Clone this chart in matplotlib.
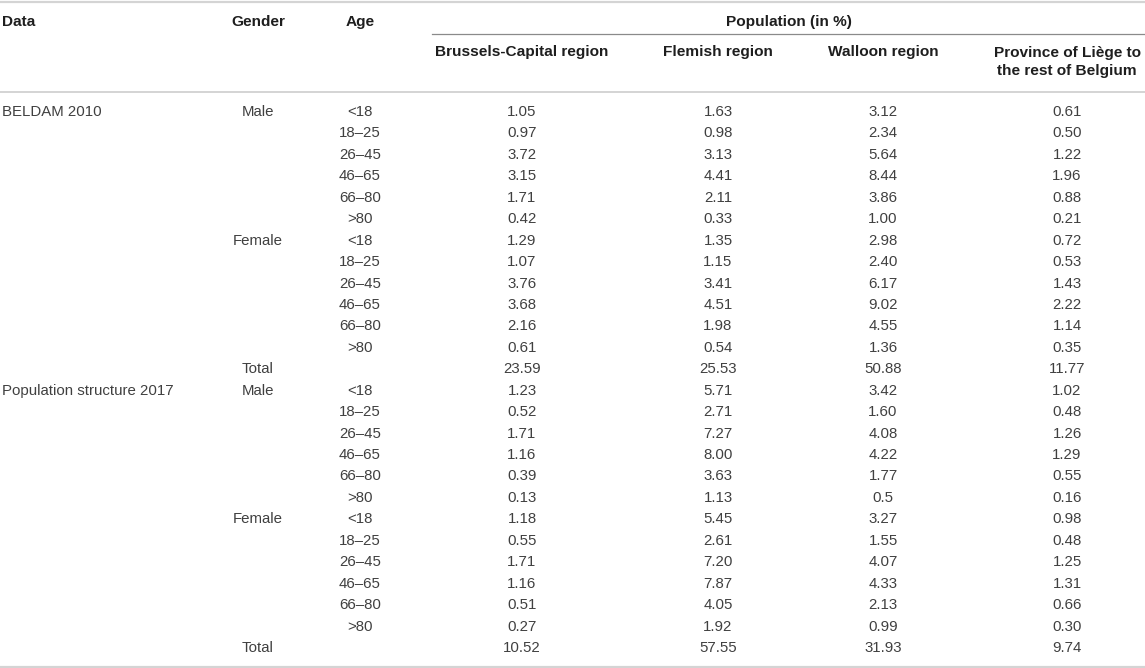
import matplotlib.pyplot as plt

plt.rcParams['font.family'] = ['Liberation Sans', 'DejaVu Sans']

# 表格数据
datasets = ["BELDAM 2010", "Population structure 2017"]
genders = ["Male", "Female"]
ages = ["<18", "18\u201325", "26\u201345", "46\u201365", "66\u201380", ">80"]
regions = ["Brussels-Capital region", "Flemish region", "Walloon region",
           "Province of Li\u00e8ge to\nthe rest of Belgium"]

beldam_brussels = ["1.05", "0.97", "3.72", "3.15", "1.71", "0.42",
                   "1.29", "1.07", "3.76", "3.68", "2.16", "0.61", "23.59"]
beldam_flemish = ["1.63", "0.98", "3.13", "4.41", "2.11", "0.33",
                  "1.35", "1.15", "3.41", "4.51", "1.98", "0.54", "25.53"]
beldam_walloon = ["3.12", "2.34", "5.64", "8.44", "3.86", "1.00",
                  "2.98", "2.40", "6.17", "9.02", "4.55", "1.36", "50.88"]
beldam_liege = ["0.61", "0.50", "1.22", "1.96", "0.88", "0.21",
                "0.72", "0.53", "1.43", "2.22", "1.14", "0.35", "11.77"]

pop_brussels = ["1.23", "0.52", "1.71", "1.16", "0.39", "0.13",
                "1.18", "0.55", "1.71", "1.16", "0.51", "0.27", "10.52"]
pop_flemish = ["5.71", "2.71", "7.27", "8.00", "3.63", "1.13",
               "5.45", "2.61", "7.20", "7.87", "4.05", "1.92", "57.55"]
pop_walloon = ["3.42", "1.60", "4.08", "4.22", "1.77", "0.5",
               "3.27", "1.55", "4.07", "4.33", "2.13", "0.99", "31.93"]
pop_liege = ["1.02", "0.48", "1.26", "1.29", "0.55", "0.16",
             "0.98", "0.48", "1.25", "1.31", "0.66", "0.30", "9.74"]

W, H = 1145, 668
fig = plt.figure(figsize=(W / 100, H / 100), dpi=100)
ax = fig.add_axes([0, 0, 1, 1])
ax.set_xlim(0, W)
ax.set_ylim(H, 0)
ax.axis('off')

fs = 10.8
fs_head = 11.1
head_c = '#1e1e1e'
body_c = '#404040'
line_c = '#d4d4d4'

x_data = 2
x_gender = 258
x_age = 360
x_reg = [522, 718, 883, 1067]

# 横线
ax.plot([0, W], [1.5, 1.5], color=line_c, lw=1.6)
ax.plot([0, W], [92, 92], color=line_c, lw=1.4)
ax.plot([432, W], [34, 34], color='#8a8a8a', lw=0.9)
ax.plot([0, W], [666.5, 666.5], color=line_c, lw=1.6)

# 表头
hb = dict(fontsize=fs_head, fontweight='bold', color=head_c, va='center')
ax.text(x_data, 22, "Data", ha='left', **hb)
ax.text(x_gender, 22, "Gender", ha='center', **hb)
ax.text(x_age, 22, "Age", ha='center', **hb)
ax.text(789, 22, "Population (in %)", ha='center', **hb)
for x, r in zip(x_reg, regions):
    if '\n' in r:
        ax.text(x, 62, r, ha='center', linespacing=1.4, **hb)
    else:
        ax.text(x, 52, r, ha='center', **hb)

# 数据行
y0 = 112
dy = 21.44
cols = [(beldam_brussels, beldam_flemish, beldam_walloon, beldam_liege),
        (pop_brussels, pop_flemish, pop_walloon, pop_liege)]
bt = dict(fontsize=fs, color=body_c, va='center')
row = 0
for d, name in enumerate(datasets):
    ax.text(x_data, y0 + row * dy, name, ha='left', **bt)
    for i in range(13):
        y = y0 + (row + i) * dy
        if i < 12:
            if i % 6 == 0:
                ax.text(x_gender, y, genders[i // 6], ha='center', **bt)
            ax.text(x_age, y, ages[i % 6], ha='center', **bt)
        else:
            ax.text(x_gender, y, "Total", ha='center', **bt)
        for x, vals in zip(x_reg, cols[d]):
            ax.text(x, y, vals[i], ha='center', **bt)
    row += 13

fig.savefig('out.png', dpi=100)
